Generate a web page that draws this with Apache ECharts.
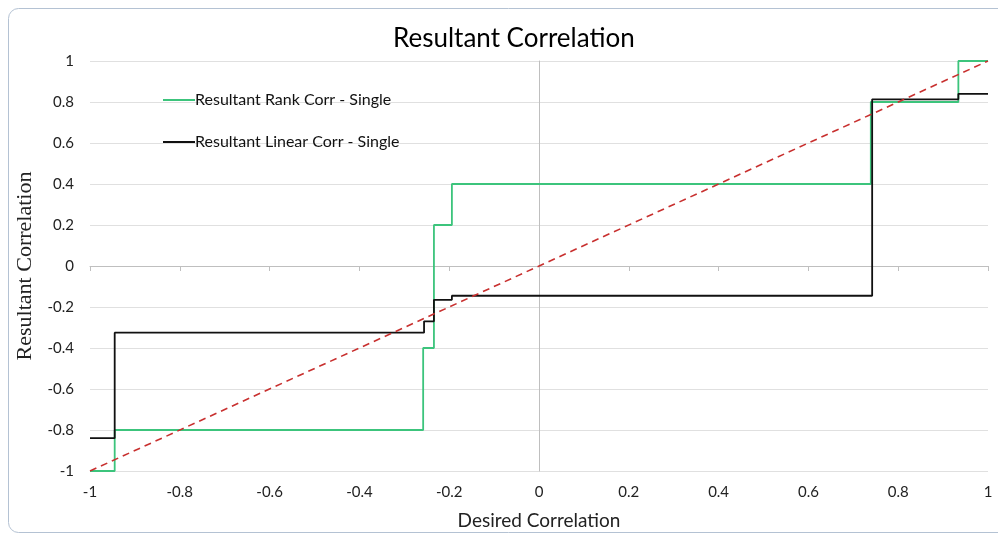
<!DOCTYPE html>
<html>
<head>
<meta charset="utf-8">
<script src="https://cdn.jsdelivr.net/npm/echarts@6/dist/echarts.min.js"></script>
<style>html,body{margin:0;padding:0;background:#fff;}#c{width:998px;height:535px;}</style>
</head>
<body>
<div id="c"></div>
<script>
// Step breakpoints (x where a new level starts) and the level from that point on
const rankX = [-1, -0.945, -0.258, -0.234, -0.194, 0.739, 0.934, 1];
const rankY = [-1, -0.8, -0.4, 0.2, 0.4, 0.8, 1, 1];
const linX = [-1, -0.945, -0.256, -0.234, -0.194, 0.742, 0.934, 1];
const linY = [-0.84, -0.325, -0.27, -0.165, -0.145, 0.813, 0.84, 0.84];
const refX = [-1, 1];
const refY = [-1, 1];

const zip = (a, b) => a.map((v, i) => [v, b[i]]);
const font = 'Lato, "Open Sans", sans-serif';

const chart = echarts.init(document.getElementById('c'));
chart.setOption({
  animation: false,
  backgroundColor: '#fff',
  title: {
    text: 'Resultant Correlation',
    left: 388, top: 21,
    textStyle: { fontFamily: font, fontSize: 26, fontWeight: 'normal', color: '#000' }
  },
  legend: {
    orient: 'vertical',
    left: 158, top: 87,
    itemGap: 26,
    itemWidth: 32, itemHeight: 2,
    icon: 'rect',
    textStyle: { fontFamily: font, fontSize: 16, color: '#111', padding: [0, 0, 0, -5] },
    data: ['Resultant Rank Corr - Single', 'Resultant Linear Corr - Single']
  },
  graphic: [{
    type: 'rect', silent: true,
    shape: { x: 8.5, y: 8.5, width: 1000, height: 524, r: 10 },
    style: { fill: 'none', stroke: '#b4c2d3', lineWidth: 1 }
  }],
  grid: { left: 90, right: 10, top: 61, bottom: 63 },
  xAxis: [{
    type: 'value', min: -1, max: 1, interval: 0.2,
    position: 'bottom',
    axisLine: { show: false, onZero: false },
    axisTick: { show: false },
    splitLine: { show: false },
    axisLabel: { fontFamily: font, fontSize: 15, color: '#222', margin: 14,
      formatter: v => String(Math.round(v * 10) / 10) },
    name: 'Desired Correlation', nameLocation: 'middle', nameGap: 40,
    nameTextStyle: { fontFamily: font, fontSize: 19, color: '#222' }
  }, {
    type: 'value', min: -1, max: 1, interval: 0.2,
    position: 'bottom',
    axisLine: { show: true, onZero: true, lineStyle: { color: '#bfbfbf', width: 1 } },
    axisTick: { show: true, length: 5, lineStyle: { color: '#bfbfbf' } },
    axisLabel: { show: false },
    splitLine: { show: false }
  }],
  yAxis: [{
    type: 'value', min: -1, max: 1, interval: 0.2,
    position: 'left',
    axisLine: { show: false, onZero: false },
    axisTick: { show: false },
    splitLine: { show: true, lineStyle: { color: '#e0e0e0', width: 1 } },
    axisLabel: { fontFamily: font, fontSize: 15, color: '#222', margin: 16,
      formatter: v => String(Math.round(v * 10) / 10) },
    name: 'Resultant Correlation', nameLocation: 'middle', nameGap: 50,
    nameTextStyle: { fontFamily: '"Liberation Serif", serif', fontSize: 22, color: '#222' }
  }, {
    type: 'value', min: -1, max: 1, interval: 0.2,
    position: 'left',
    axisLine: { show: true, onZero: true, lineStyle: { color: '#bfbfbf', width: 1 } },
    axisTick: { show: false },
    axisLabel: { show: false },
    splitLine: { show: false }
  }],
  series: [{
    name: 'Resultant Rank Corr - Single',
    type: 'line', step: 'end', symbol: 'none',
    data: zip(rankX, rankY),
    itemStyle: { color: '#3cc47c' },
    lineStyle: { color: '#3cc47c', width: 1.8 },
    z: 3
  }, {
    name: 'Resultant Linear Corr - Single',
    type: 'line', step: 'end', symbol: 'none',
    data: zip(linX, linY),
    itemStyle: { color: '#111' },
    lineStyle: { color: '#111', width: 1.8 },
    z: 4
  }, {
    name: 'Reference',
    type: 'line', symbol: 'none',
    data: zip(refX, refY),
    lineStyle: { color: '#c8302f', width: 1.6, type: [7, 5] },
    z: 5
  }]
});
</script>
</body>
</html>
